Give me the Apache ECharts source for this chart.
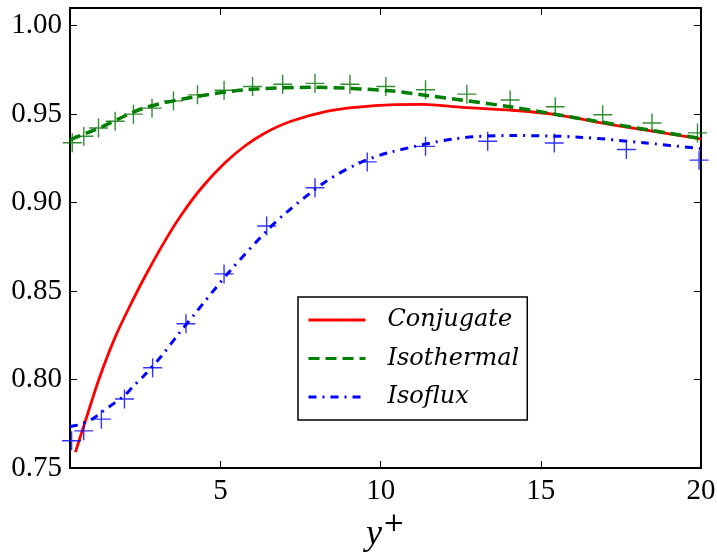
<!DOCTYPE html>
<html>
<head>
<meta charset="utf-8">
<script src="https://cdn.jsdelivr.net/npm/echarts@6/dist/echarts.min.js"></script>
<style>html,body{margin:0;padding:0;background:#fff}#c{width:717px;height:552px}</style>
</head>
<body>
<div id="c"></div>
<script>
// ---- data ----
const seriesNames = ['Conjugate', 'Isothermal', 'Isoflux'];
const xTicks = [5, 10, 15, 20];
const yTicks = [0.75, 0.80, 0.85, 0.90, 0.95, 1.00];

const conjugateX = [0.47, 0.78, 1.19, 1.71, 2.23, 2.65, 3.27, 3.79, 4.41, 5.14, 5.76, 6.39, 7.2, 8.31, 9.3, 10.28, 11.3, 12.56, 14.1, 15.47, 17.23, 20];
const conjugateY = [0.759, 0.7765, 0.7995, 0.824, 0.8437, 0.8585, 0.8785, 0.8934, 0.9084, 0.9225, 0.932, 0.9394, 0.946, 0.9516, 0.954, 0.9553, 0.9555, 0.9538, 0.9522, 0.9497, 0.944, 0.936];

const isothermalX = [0.3, 1.25, 2.6, 4.26, 5.82, 7.9, 10.28, 11.42, 14.1, 16.2, 20];
const isothermalY = [0.9355, 0.9425, 0.9534, 0.960, 0.9638, 0.9652, 0.9632, 0.9606, 0.954, 0.9476, 0.9362];

const isofluxX = [0.3, 0.52, 0.99, 1.3, 1.66, 2.01, 2.28, 2.6, 3.17, 3.69, 4.21, 4.47, 5.3, 6.44, 7.06, 8.31, 9.35, 10.3, 12.36, 14.1, 16.2, 18.28, 20];
const isofluxY = [0.7735, 0.7742, 0.7776, 0.7817, 0.7864, 0.7911, 0.7963, 0.802, 0.8136, 0.8258, 0.8374, 0.8433, 0.8615, 0.884, 0.8945, 0.9122, 0.9225, 0.9285, 0.9362, 0.9379, 0.937, 0.9337, 0.9305];

const isothermalPtsX = [0.37, 0.73, 1.19, 1.71, 2.28, 2.86, 3.53, 4.28, 5.11, 6.0, 6.94, 7.95, 9.04, 10.16, 11.4, 12.69, 14.04, 15.45, 16.93, 18.47, 19.89];
const isothermalPtsY = [0.9338, 0.9375, 0.9422, 0.946, 0.950, 0.9534, 0.9575, 0.9609, 0.9635, 0.9656, 0.9669, 0.9674, 0.9669, 0.9656, 0.9638, 0.9613, 0.958, 0.9542, 0.9497, 0.945, 0.9394];

const isofluxPtsX = [0.35, 0.73, 1.28, 2.0, 2.88, 3.92, 5.11, 6.44, 7.95, 9.58, 11.4, 13.34, 15.42, 17.67, 19.94];
const isofluxPtsY = [0.7654, 0.771, 0.7776, 0.789, 0.8067, 0.8315, 0.8597, 0.8868, 0.9084, 0.923, 0.9318, 0.9347, 0.9337, 0.930, 0.924];

const xMin = 0.3, xMax = 20, yMin = 0.75, yMax = 1.01;
// --------------------------------------

const zip = (xs, ys) => xs.map((x, i) => [x, ys[i]]);
const plus = 'path://M10,0 L10,20 M0,10 L20,10';
const tickFont = {fontFamily: 'Liberation Serif', fontSize: 29, color: '#000'};

const chart = echarts.init(document.getElementById('c'), null, {renderer: 'canvas'});
chart.setOption({
  animation: false,
  backgroundColor: '#fff',
  grid: {left: 70, right: 16, top: 8, bottom: 84, containLabel: false, outerBoundsMode: 'none'},
  xAxis: [{
    type: 'value', min: xMin, max: xMax, position: 'bottom',
    axisLine: {show: true, onZero: false, lineStyle: {color: '#000', width: 2}},
    axisTick: {show: true, inside: true, length: 7, lineStyle: {color: '#000', width: 1}, customValues: xTicks},
    axisLabel: Object.assign({margin: 9, customValues: xTicks, formatter: v => String(v)}, tickFont),
    splitLine: {show: false},
    name: '{i|y}{s|+}', nameLocation: 'middle', nameGap: 42,
    nameTextStyle: {rich: {
      i: {fontFamily: 'Liberation Serif', fontStyle: 'italic', fontSize: 36, color: '#000', verticalAlign: 'bottom'},
      s: {fontFamily: 'DejaVu Serif', fontSize: 26, color: '#000', padding: [0, 0, 16, 1], verticalAlign: 'bottom'}
    }}
  }, {
    type: 'value', min: xMin, max: xMax, position: 'top',
    axisLine: {show: true, onZero: false, lineStyle: {color: '#000', width: 2}},
    axisTick: {show: true, inside: true, length: 7, lineStyle: {color: '#000', width: 1}, customValues: xTicks},
    axisLabel: {show: false}, splitLine: {show: false}
  }],
  yAxis: [{
    type: 'value', min: yMin, max: yMax, position: 'left',
    axisLine: {show: true, onZero: false, lineStyle: {color: '#000', width: 2}},
    axisTick: {show: true, inside: true, length: 7, lineStyle: {color: '#000', width: 1}, customValues: yTicks},
    axisLabel: Object.assign({margin: 8, customValues: yTicks, formatter: v => v.toFixed(2)}, tickFont),
    splitLine: {show: false}
  }, {
    type: 'value', min: yMin, max: yMax, position: 'right',
    axisLine: {show: true, onZero: false, lineStyle: {color: '#000', width: 2}},
    axisTick: {show: true, inside: true, length: 7, lineStyle: {color: '#000', width: 1}, customValues: yTicks},
    axisLabel: {show: false}, splitLine: {show: false}
  }],
  legend: {
    data: seriesNames, orient: 'vertical', left: 298, top: 297,
    padding: [9, 8, 9, 9], itemGap: 10.5, itemWidth: 57, itemHeight: 14,
    backgroundColor: '#fff', borderColor: '#000', borderWidth: 1.5, borderRadius: 0,
    itemStyle: {opacity: 0},
    lineStyle: {width: 3},
    textStyle: {fontFamily: 'DejaVu Serif', fontStyle: 'italic', fontSize: 24, color: '#000', lineHeight: 28, padding: [0, 0, 0, 17]}
  },
  series: [
    {name: seriesNames[0], type: 'line', smooth: 0.3, symbol: 'none', data: zip(conjugateX, conjugateY),
      lineStyle: {color: '#ff0000', width: 2.8}, itemStyle: {color: '#ff0000'}, z: 3},
    {name: seriesNames[1], type: 'line', smooth: 0.3, symbol: 'none', data: zip(isothermalX, isothermalY),
      lineStyle: {color: '#008000', width: 3.5, type: [11, 6]}, itemStyle: {color: '#008000'}, z: 3},
    {name: seriesNames[2], type: 'line', smooth: 0.3, symbol: 'none', data: zip(isofluxX, isofluxY),
      lineStyle: {color: '#0000ff', width: 3, type: [8, 6, 2, 6]}, itemStyle: {color: '#0000ff'}, z: 3},
    {name: 'IsothermalPts', type: 'scatter', symbol: plus, symbolSize: 19, data: zip(isothermalPtsX, isothermalPtsY),
      itemStyle: {color: 'rgba(0,0,0,0)', borderColor: '#007000', borderWidth: 1.4}, z: 4},
    {name: 'IsofluxPts', type: 'scatter', symbol: plus, symbolSize: 19, data: zip(isofluxPtsX, isofluxPtsY),
      itemStyle: {color: 'rgba(0,0,0,0)', borderColor: '#0000ff', borderWidth: 1.4}, z: 4}
  ]
});
</script>
</body>
</html>
